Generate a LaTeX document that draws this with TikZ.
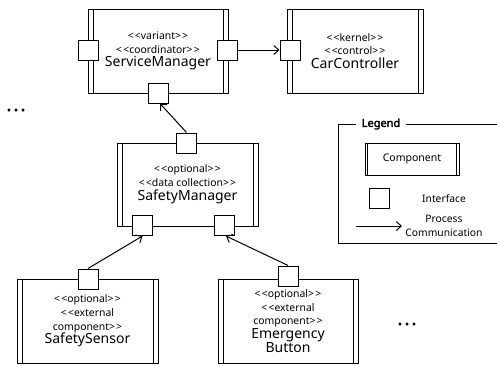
\documentclass[tikz,border=0pt]{standalone}
\usepackage{fontspec}
\setmainfont{Noto Sans}[AutoFakeBold=2.5]
\usetikzlibrary{arrows.meta}
\newcommand\sterfont{\fontsize{10.4}{13.8}\selectfont}
\newcommand\namefont{\fontsize{14}{16}\selectfont}
\newcommand\stl{<\kern1.2pt<}
\newcommand\str{>\kern1.2pt>}
\newcommand\tdots{.\kern2.2pt.\kern2.2pt.}
\begin{document}
\begin{tikzpicture}[x=1pt,y=-1pt,
  comp/.style={draw, fill=white, line width=1pt, inner sep=0pt, align=center, font=\sterfont,
    path picture={\draw[line width=1pt]
      ([xshift=#1]path picture bounding box.north west) -- ([xshift=#1]path picture bounding box.south west)
      ([xshift=-#1]path picture bounding box.north east) -- ([xshift=-#1]path picture bounding box.south east);}},
  comp/.default=5pt,
  port/.style={draw, fill=white, line width=1pt, minimum size=20pt, inner sep=0pt},
  pc/.style={-{Straight Barb[length=5pt,width=9pt,line width=1pt]}, line width=1pt},
  dots/.style={font=\bfseries\fontsize{18}{18}\selectfont, inner sep=0pt, anchor=base},
  lbl/.style={font=\fontsize{10.3}{13.5}\selectfont, align=center, inner sep=0pt}
]
\useasboundingbox (0,0) rectangle (497,365);

% components
\node[comp, minimum width=140pt, minimum height=84pt] (sm) at (158,51)
  {\stl variant\str\\\stl coordinator\str\\{\namefont ServiceManager}};
\node[comp, minimum width=136pt, minimum height=84pt] (cc) at (355,51)
  {\stl kernel\str\\\stl control\str\\{\namefont CarController}};
\node[comp, minimum width=141pt, minimum height=83pt] (sfm) at (187.5,184.5)
  {\stl optional\str\\\stl data collection\str\\{\namefont SafetyManager}};
\node[comp, minimum width=141pt, minimum height=84pt] (ss) at (87.5,321)
  {\stl optional\str\\\stl external\\component\str\\{\namefont SafetySensor}};
\node[comp, minimum width=140pt, minimum height=84pt] (eb) at (288,321)
  {\stl optional\str\\\stl external\\component\str\\{\namefont Emergency}\\{\namefont Button}};

% ports
\node[port] (smL) at (88,50) {};
\node[port] (smR) at (227,50) {};
\node[port] (smB) at (158,93) {};
\node[port] (ccL) at (290,50) {};
\node[port] (sfmT) at (186.5,143) {};
\node[port] (sfmBL) at (142.5,225.5) {};
\node[port] (sfmBR) at (224.5,225.5) {};
\node[port] (ssT) at (88,279) {};
\node[port] (ebT) at (288,276) {};

% connectors
\draw[pc] (smR.east) -- (ccL.west);
\draw[pc] (sfmT.north) -- ([xshift=2pt]smB.south);
\draw[pc] (ssT.north) -- (sfmBL.south);
\draw[pc] (ebT.north) -- ([xshift=1.5pt]sfmBR.south);

% dots
\node[dots] (d1) at (16,111) {\tdots};
\node[dots] (d2) at (407,325) {\tdots};

% legend
\draw[line width=1pt] (338,124) rectangle (500,243);
\node[fill=white, font=\bfseries\fontsize{11}{13}\selectfont, inner xsep=6pt, inner ysep=1pt] (lt) at (381,124) {Legend};
\node[comp=2.5pt, minimum width=94pt, minimum height=32pt, font=\fontsize{10.5}{13}\selectfont] (lc) at (412,159) {Component};
\node[port] (li) at (379,198) {};
\node[lbl] (lit) at (444,198.5) {Interface};
\coordinate (la1) at (356,226);
\coordinate (la2) at (402,226);
\draw[pc] (la1) -- (la2);
\node[lbl] (lat) at (444,226) {Process\\Communication};
\end{tikzpicture}
\end{document}
